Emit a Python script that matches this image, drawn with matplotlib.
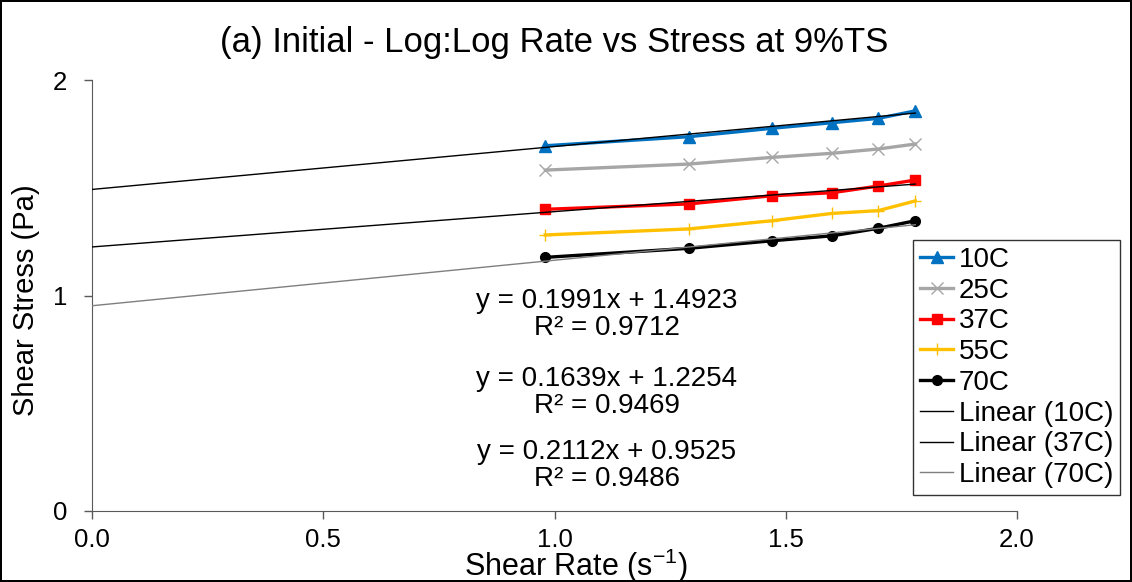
import matplotlib
matplotlib.use("Agg")
import matplotlib.pyplot as plt
import numpy as np

plt.rcParams['font.family'] = ['Liberation Sans', 'DejaVu Sans']

# log10 shear rate
log_rate = [0.98, 1.29, 1.47, 1.60, 1.70, 1.78]

# log10 shear stress per temperature
temps = ['10C', '25C', '37C', '55C', '70C']
stress_10 = [1.695, 1.737, 1.776, 1.802, 1.822, 1.857]
stress_25 = [1.582, 1.610, 1.641, 1.660, 1.680, 1.703]
stress_37 = [1.400, 1.425, 1.463, 1.477, 1.508, 1.536]
stress_55 = [1.281, 1.309, 1.347, 1.381, 1.394, 1.439]
stress_70 = [1.177, 1.219, 1.254, 1.277, 1.312, 1.347]

# trendlines shown on the chart
trend_names = ['Linear (10C)', 'Linear (37C)', 'Linear (70C)']
trend_slope = [0.1991, 0.1639, 0.2112]
trend_icept = [1.4923, 1.2254, 0.9525]
trend_r2 = [0.9712, 0.9469, 0.9486]

fig = plt.figure(figsize=(11.32, 5.82), dpi=100)
fig.patch.set_edgecolor('black')
fig.patch.set_linewidth(1.5)
ax = fig.add_axes([0.0813, 0.122, 0.8172, 0.7405])

styles = [
    ('#0070C0', '^', 8),
    ('#A6A6A6', 'x', 8),
    ('#FF0000', 's', 7),
    ('#FFC000', '+', 9),
    ('black', 'o', 7),
]
series = [stress_10, stress_25, stress_37, stress_55, stress_70]
for name, ys, (c, m, ms) in zip(temps, series, styles):
    ax.plot(log_rate, ys, color=c, marker=m, markersize=ms, lw=2.4,
            label=name, zorder=3)

trend_colors = ['black', 'black', '#7F7F7F']
xs = np.array([0.0, log_rate[-1]])
for name, k, b, c in zip(trend_names, trend_slope, trend_icept, trend_colors):
    ax.plot(xs, k * xs + b, color=c, lw=1.0, label=name, zorder=4)

# equation labels
eq_pos = [(1.113, 0.914), (1.113, 0.552), (1.113, 0.209)]
for (x, y), k, b, r2 in zip(eq_pos, trend_slope, trend_icept, trend_r2):
    ax.text(x, y, f'y = {k:.4f}x + {b:.4f}\nR² = {r2:.4f}', ha='center',
            va='center', fontsize=20, linespacing=1.05)

ax.set_xlim(0, 2.0)
ax.set_ylim(0, 2)
ax.set_xticks([0.0, 0.5, 1.0, 1.5, 2.0])
ax.set_xticklabels(['0.0', '0.5', '1.0', '1.5', '2.0'])
ax.set_yticks([0, 1, 2])
ax.tick_params(labelsize=18.5, length=6, color='#595959', width=1)
ax.tick_params(axis='y', pad=12)
ax.tick_params(axis='x', pad=6)
for s in ['top', 'right']:
    ax.spines[s].set_visible(False)
for s in ['left', 'bottom']:
    ax.spines[s].set_color('#595959')

ax.set_title('(a) Initial - Log:Log Rate vs Stress at 9%TS', fontsize=25, pad=20)
fig.text(576 / 1132, 1 - 576 / 582, r'Shear Rate (s$^{\mathregular{-1}}$)',
         fontsize=22, ha='center', va='baseline')
fig.text(26 / 1132, 1 - 300 / 582, 'Shear Stress (Pa)', fontsize=21,
         rotation=90, ha='center', va='center')

leg = ax.legend(loc='upper left', bbox_to_anchor=(913 / 1132, 1 - 240 / 582),
                bbox_transform=fig.transFigure, fontsize=20, frameon=True,
                fancybox=False, edgecolor='black', handlelength=1.2,
                handletextpad=0.2, labelspacing=0.17, borderpad=0.25,
                borderaxespad=0)
leg.get_frame().set_linewidth(1.0)

fig.savefig('out.png', dpi=100)
